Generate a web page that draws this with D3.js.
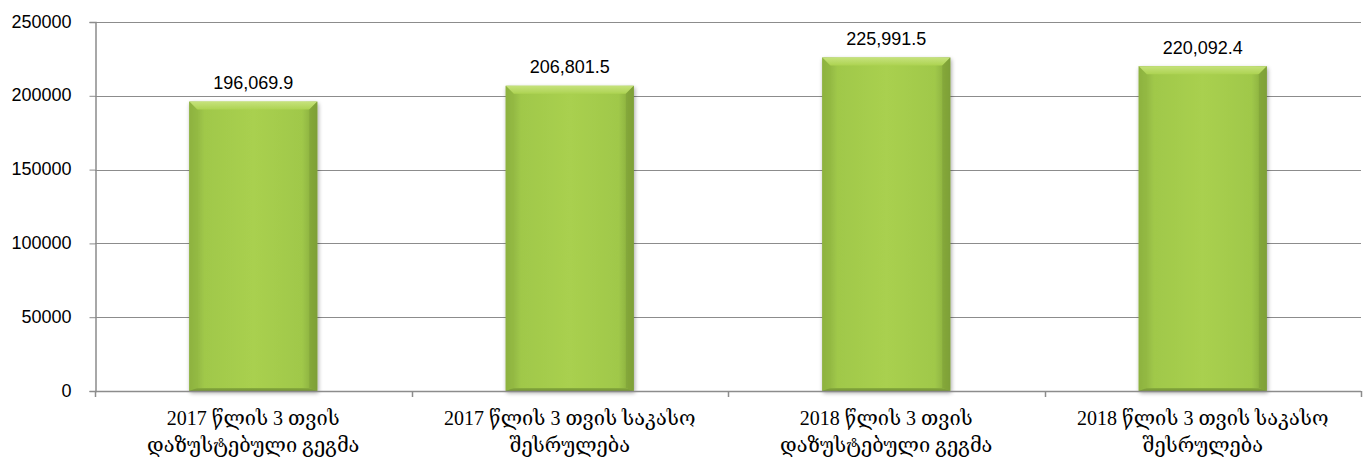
<!DOCTYPE html>
<html>
<head>
<meta charset="utf-8">
<script src="https://cdn.jsdelivr.net/npm/d3@7"></script>
<style>
  html, body { margin: 0; padding: 0; background: #fff; }
  svg { display: block; }
</style>
</head>
<body>
<svg id="chart" width="1372" height="460"></svg>
<script>
// Budget figures: planned vs. executed for the first 3 months of 2017 and 2018
const categories = [
  ["2017 წლის 3 თვის", "დაზუსტებული გეგმა"],
  ["2017 წლის 3 თვის საკასო", "შესრულება"],
  ["2018 წლის 3 თვის", "დაზუსტებული გეგმა"],
  ["2018 წლის 3 თვის საკასო", "შესრულება"]
];
const values = [196069.9, 206801.5, 225991.5, 220092.4];
const yTicks = [0, 50000, 100000, 150000, 200000, 250000];

const svg = d3.select("#chart");
const margin = { left: 95, right: 11, top: 22, bottom: 69 };
const W = 1372, H = 460;

const x = d3.scaleBand()
  .domain(d3.range(categories.length))
  .range([margin.left, W - margin.right])
  .paddingInner(0.595)
  .paddingOuter(0.2975);
const y = d3.scaleLinear().domain([0, 250000]).range([H - margin.bottom, margin.top]);

const defs = svg.append("defs");
const grad = defs.append("linearGradient").attr("id", "barFill").attr("x1", 0).attr("x2", 1).attr("y1", 0).attr("y2", 0);
grad.append("stop").attr("offset", "0%").attr("stop-color", "#86a93c");
grad.append("stop").attr("offset", "12%").attr("stop-color", "#a0c84a");
grad.append("stop").attr("offset", "50%").attr("stop-color", "#a9d04f");
grad.append("stop").attr("offset", "88%").attr("stop-color", "#a0c84a");
grad.append("stop").attr("offset", "100%").attr("stop-color", "#80a339");
const topGrad = defs.append("linearGradient").attr("id", "topFill").attr("x1", 0).attr("x2", 0).attr("y1", 0).attr("y2", 1);
topGrad.append("stop").attr("offset", "0%").attr("stop-color", "#c6e27c");
topGrad.append("stop").attr("offset", "100%").attr("stop-color", "#add352");
const botGrad = defs.append("linearGradient").attr("id", "botFill").attr("x1", 0).attr("x2", 0).attr("y1", 0).attr("y2", 1);
botGrad.append("stop").attr("offset", "0%").attr("stop-color", "#8aae40");
botGrad.append("stop").attr("offset", "100%").attr("stop-color", "#6f8f30");
const shadow = defs.append("filter").attr("id", "shadow").attr("x", "-10%").attr("y", "-10%").attr("width", "120%").attr("height", "120%");
shadow.append("feGaussianBlur").attr("in", "SourceAlpha").attr("stdDeviation", 2);
shadow.append("feOffset").attr("dx", 1).attr("dy", 2).attr("result", "b");
shadow.append("feComponentTransfer").append("feFuncA").attr("type", "linear").attr("slope", 0.35);
const merge = shadow.append("feMerge");
merge.append("feMergeNode");
merge.append("feMergeNode").attr("in", "SourceGraphic");

// Horizontal gridlines
svg.append("g")
  .selectAll("line")
  .data(yTicks)
  .join("line")
  .attr("x1", margin.left).attr("x2", W - margin.right)
  .attr("y1", d => Math.round(y(d)) + 0.5).attr("y2", d => Math.round(y(d)) + 0.5)
  .attr("stroke", "#8c8c8c").attr("stroke-width", 1);

// Y axis
const yAxis = svg.append("g")
  .attr("transform", `translate(${margin.left + 0.5},0)`)
  .call(d3.axisLeft(y).tickValues(yTicks).tickFormat(d3.format("d")).tickSize(6).tickPadding(18));
yAxis.select(".domain").attr("stroke", "#8c8c8c").attr("stroke-width", 1.5);
yAxis.selectAll(".tick line").attr("stroke", "#8c8c8c");
yAxis.selectAll("text")
  .attr("font-family", "'Liberation Sans', 'Open Sans', sans-serif")
  .attr("font-size", 18).attr("fill", "#000")
  .attr("dy", "0.28em");

// Bars with bevelled faces
const bw = x.bandwidth();
const bev = 8;
const bars = svg.append("g").selectAll("g").data(values).join("g")
  .attr("filter", "url(#shadow)");
bars.append("rect")
  .attr("x", (d, i) => x(i)).attr("y", d => y(d))
  .attr("width", bw).attr("height", d => y(0) - y(d))
  .attr("fill", "url(#barFill)");
bars.append("path")
  .attr("d", (d, i) => {
    const x0 = x(i), x1 = x0 + bw, t = y(d);
    return `M${x0},${t}L${x1},${t}L${x1 - bev},${t + bev}L${x0 + bev},${t + bev}Z`;
  })
  .attr("fill", "url(#topFill)");
bars.append("path")
  .attr("d", (d, i) => {
    const x0 = x(i), t = y(d), b = y(0);
    return `M${x0},${t}L${x0 + bev},${t + bev}L${x0 + bev},${b - 3}L${x0},${b}Z`;
  })
  .attr("fill", "#94b944").attr("opacity", 0.55);
bars.append("path")
  .attr("d", (d, i) => {
    const x1 = x(i) + bw, t = y(d), b = y(0);
    return `M${x1},${t}L${x1 - bev},${t + bev}L${x1 - bev},${b - 3}L${x1},${b}Z`;
  })
  .attr("fill", "#7b9c35").attr("opacity", 0.55);
bars.append("path")
  .attr("d", (d, i) => {
    const x0 = x(i), x1 = x0 + bw, b = y(0);
    return `M${x0},${b}L${x0 + bev},${b - 3}L${x1 - bev},${b - 3}L${x1},${b}Z`;
  })
  .attr("fill", "url(#botFill)");

// X axis baseline and band ticks
const xAxisG = svg.append("g");
xAxisG.append("line")
  .attr("x1", margin.left).attr("x2", W - margin.right)
  .attr("y1", y(0) + 0.5).attr("y2", y(0) + 0.5)
  .attr("stroke", "#8c8c8c").attr("stroke-width", 1.5);
const step = x.step();
const bounds = d3.range(categories.length + 1).map(i => margin.left + i * step);
xAxisG.selectAll("line.tk").data(bounds).join("line").attr("class", "tk")
  .attr("x1", d => Math.round(d) + 0.5).attr("x2", d => Math.round(d) + 0.5)
  .attr("y1", y(0)).attr("y2", y(0) + 6)
  .attr("stroke", "#8c8c8c").attr("stroke-width", 1.5);

// Value labels
svg.append("g").selectAll("text").data(values).join("text")
  .attr("x", (d, i) => x(i) + bw / 2)
  .attr("y", d => y(d) - 12.5)
  .attr("text-anchor", "middle")
  .attr("font-family", "'Liberation Sans', 'Open Sans', sans-serif")
  .attr("font-size", 18).attr("fill", "#000")
  .text(d => d3.format(",.1f")(d));

// Category labels (two lines each)
const cat = svg.append("g").selectAll("text").data(categories).join("text")
  .attr("x", (d, i) => x(i) + bw / 2)
  .attr("y", 425)
  .attr("text-anchor", "middle")
  .attr("font-family", "'Liberation Serif', 'DejaVu Serif', serif")
  .attr("font-size", 20).attr("fill", "#000");
cat.selectAll("tspan").data(d => d).join("tspan")
  .attr("x", function () { return d3.select(this.parentNode).attr("x"); })
  .attr("dy", (d, j) => j === 0 ? 0 : 27)
  .text(d => d);
</script>
</body>
</html>
